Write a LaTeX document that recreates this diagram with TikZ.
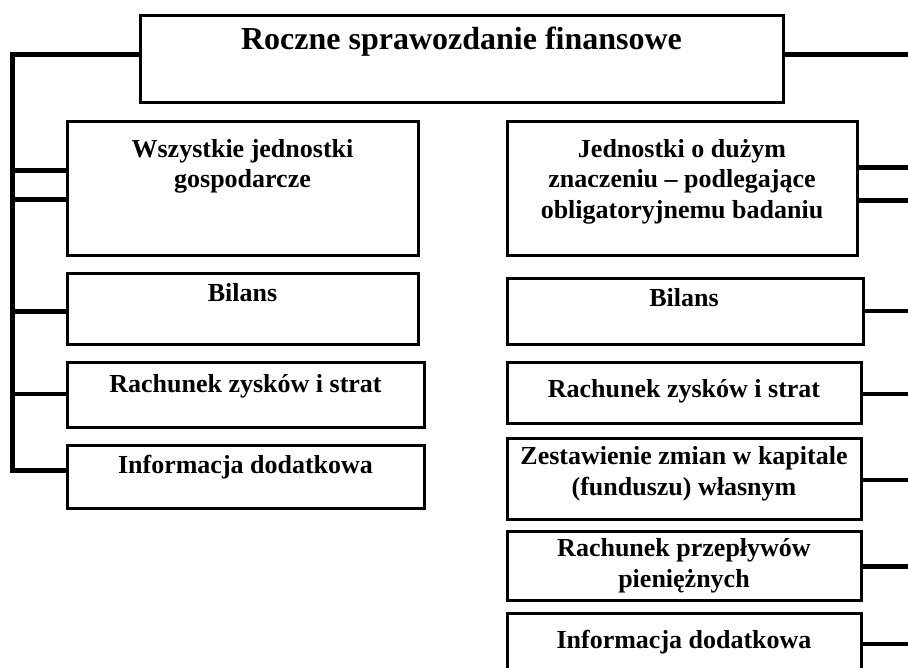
\documentclass[tikz,border=0pt]{standalone}
\usepackage{fontspec}
\setmainfont{Liberation Serif}
\begin{document}
\begin{tikzpicture}[x=1pt,y=-1pt,
  boxst/.style={draw, line width=3pt, rectangle, inner sep=0pt, outer sep=0pt, anchor=north west},
  link/.style={line width=4.5pt},
  spine/.style={line width=5pt},
  txt/.style={anchor=base, font=\fontsize{26}{30.7}\selectfont\bfseries, align=center, inner sep=0pt},
  ttl/.style={anchor=base, font=\fontsize{32}{38}\selectfont\bfseries, inner sep=0pt},
]
\useasboundingbox (0,0) rectangle (908,668);
\clip (0,0) rectangle (908,668);

% boxes
\node[boxst, minimum width=643pt, minimum height=87pt] (main) at (140,16) {};
\node[boxst, minimum width=351pt, minimum height=134pt] (L1) at (67,122) {};
\node[boxst, minimum width=351pt, minimum height=71pt] (L2) at (67,274) {};
\node[boxst, minimum width=357pt, minimum height=64pt] (L3) at (67,363) {};
\node[boxst, minimum width=357pt, minimum height=63pt] (L4) at (67,445) {};
\node[boxst, minimum width=350pt, minimum height=134pt] (R1) at (507,122) {};
\node[boxst, minimum width=356pt, minimum height=66pt] (R2) at (507,279) {};
\node[boxst, minimum width=354pt, minimum height=60pt] (R3) at (507,363) {};
\node[boxst, minimum width=354pt, minimum height=81pt] (R4) at (507,438) {};
\node[boxst, minimum width=354pt, minimum height=69pt] (R5) at (507,531) {};
\node[boxst, minimum width=354pt, minimum height=87pt] (R6) at (507,613) {};

% texts (base anchor = baseline of the last line)
\node[ttl] (tmain) at (461.5,50) {Roczne sprawozdanie finansowe};
\node[txt] (tL1) at (242.5,188) {Wszystkie jednostki\\gospodarcze};
\node[txt] (tL2) at (242.5,302) {Bilans};
\node[txt] (tL3) at (245.5,392) {Rachunek zysków i strat};
\node[txt] (tL4) at (245.5,473) {Informacja dodatkowa};
\node[txt] (tR1) at (682,218.5) {Jednostki o dużym\\znaczeniu – podlegające\\obligatoryjnemu badaniu};
\node[txt] (tR2) at (684,307) {Bilans};
\node[txt] (tR3) at (684,398) {Rachunek zysków i strat};
\node[txt] (tR4) at (684,495) {Zestawienie zmian w kapitale\\(funduszu) własnym};
\node[txt] (tR5) at (684,587) {Rachunek przepływów\\pieniężnych};
\node[txt] (tR6) at (684,648) {Informacja dodatkowa};

% left connectors
\coordinate (s0) at (12.5,54.5);
\coordinate (s1) at (12.5,170.5);
\coordinate (s2) at (12.5,199.5);
\coordinate (s3) at (12.5,311.5);
\coordinate (s4) at (12.5,394);
\coordinate (s5) at (12.5,470.5);
\draw[spine] (main.west |- s0) -- (s0) -- (s5) -- (L4.west |- s5);
\draw[link] (s1) -- (L1.west |- s1);
\draw[link] (s2) -- (L1.west |- s2);
\draw[link] (s3) -- (L2.west |- s3);
\draw[link] (s4) -- (L3.west |- s4);

% right connectors
\coordinate (e0) at (912,54.5);
\coordinate (e1) at (912,167.5);
\coordinate (e2) at (912,200.5);
\coordinate (e3) at (912,311);
\coordinate (e4) at (912,394);
\coordinate (e5) at (912,480);
\coordinate (e6) at (912,566.5);
\coordinate (e7) at (912,644);
\draw[link] (main.east |- e0) -- (e0);
\draw[link] (R1.east |- e1) -- (e1);
\draw[link] (R1.east |- e2) -- (e2);
\draw[link] (R2.east |- e3) -- (e3);
\draw[link] (R3.east |- e4) -- (e4);
\draw[link] (R4.east |- e5) -- (e5);
\draw[link] (R5.east |- e6) -- (e6);
\draw[link] (R6.east |- e7) -- (e7);
\end{tikzpicture}
\end{document}
